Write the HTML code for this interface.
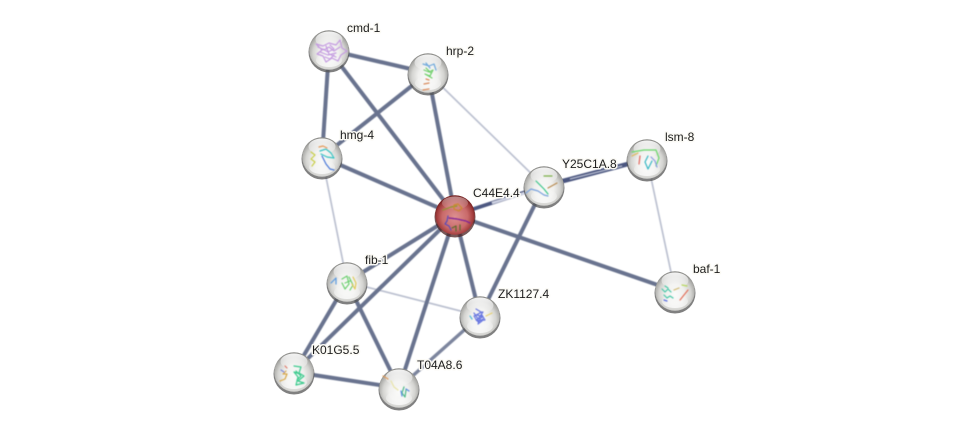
<!DOCTYPE html>
<html><head><meta charset="utf-8"><style>
html,body{margin:0;padding:0;background:#fff;width:976px;height:432px;overflow:hidden}
svg{display:block}
text{font-family:"Liberation Sans",sans-serif;font-size:12px;fill:#1c1c1c;paint-order:stroke;stroke:#fbfaf5;stroke-width:3px;stroke-linejoin:round}
.s{stroke:#69738f;stroke-width:4;fill:none}
.t{stroke:#bcc1d0;stroke-width:1.7;fill:none}
.p{fill:none;stroke-width:1.2;stroke-linecap:round;stroke-linejoin:round}
</style></head><body>
<svg width="976" height="432" viewBox="0 0 976 432" xmlns="http://www.w3.org/2000/svg">
<defs>
<filter id="b" x="-5%" y="-5%" width="110%" height="110%"><feGaussianBlur stdDeviation="0.45"/></filter>
<radialGradient id="g" cx="50%" cy="58%" r="56%">
<stop offset="0" stop-color="#fbfbfa"/><stop offset=".45" stop-color="#efefed"/><stop offset=".72" stop-color="#d4d4d1"/><stop offset=".9" stop-color="#adadaa"/><stop offset="1" stop-color="#8b8b88"/>
</radialGradient>
<radialGradient id="r" cx="50%" cy="55%" r="54%">
<stop offset="0" stop-color="#dd9090"/><stop offset=".6" stop-color="#c96a6a"/><stop offset=".85" stop-color="#a23c3c"/><stop offset="1" stop-color="#701c1c"/>
</radialGradient>
<linearGradient id="h" x1="0" y1="0" x2="0" y2="1"><stop offset="0" stop-color="#fff" stop-opacity=".9"/><stop offset="1" stop-color="#fff" stop-opacity=".1"/></linearGradient>
<linearGradient id="lo" x1="0" y1="0" x2="0" y2="1"><stop offset="0" stop-color="#fff" stop-opacity="0"/><stop offset="1" stop-color="#fff" stop-opacity=".75"/></linearGradient>
<g id="n"><circle cy="2" r="20.5" fill="#555" opacity=".75"/><circle r="19.8" fill="url(#g)"/><ellipse cy="-10.5" rx="13.5" ry="8" fill="url(#h)"/><ellipse cy="10" rx="13" ry="7" fill="url(#lo)"/></g>
<g id="m"><circle cy="2" r="20.5" fill="#4a2020" opacity=".75"/><circle r="19.8" fill="url(#r)"/><ellipse cy="-12" rx="13" ry="6.5" fill="url(#h)" opacity=".5"/></g>
</defs>

<g filter="url(#b)">
<line class="t" x1="428" y1="73" x2="544" y2="186"/>
<line class="t" x1="322" y1="157" x2="347" y2="282"/>
<line class="t" x1="347" y1="282" x2="480" y2="316"/>
<line class="t" x1="647" y1="159" x2="675" y2="291"/>

<line class="s" x1="329" y1="50" x2="428" y2="73"/>
<line class="s" x1="329" y1="50" x2="322" y2="157"/>
<line class="s" x1="329" y1="50" x2="455" y2="215"/>
<line class="s" x1="428" y1="73" x2="322" y2="157"/>
<line class="s" x1="428" y1="73" x2="455" y2="215"/>
<line class="s" x1="322" y1="157" x2="455" y2="215"/>
<line class="s" x1="455" y1="215" x2="347" y2="282" stroke-width="4.6"/>
<line class="s" x1="455" y1="215" x2="294" y2="372"/>
<line class="s" x1="455" y1="215" x2="399" y2="388" stroke-width="4.2"/>
<line class="s" x1="455" y1="215" x2="480" y2="316"/>
<line class="s" x1="455" y1="215" x2="675" y2="291"/>
<line class="s" x1="544" y1="186" x2="480" y2="316" stroke-width="3.6"/>
<line class="s" x1="347" y1="282" x2="294" y2="372" stroke-width="4.8"/>
<line class="s" x1="347" y1="282" x2="399" y2="388"/>
<line class="s" x1="294" y1="372" x2="399" y2="388" stroke-width="4.4"/>
<line x1="480" y1="316" x2="399" y2="388" stroke="#7d859e" stroke-width="3.4"/>
<line x1="455" y1="215" x2="544" y2="186" stroke="#4e5982" stroke-width="3.8"/>
<line x1="492" y1="203" x2="528" y2="192" stroke="#d0d4e4" stroke-width="2.4"/>
<line x1="544" y1="186" x2="647" y2="159" stroke="#4b5680" stroke-width="4.6"/>
<line x1="570" y1="179" x2="622" y2="166" stroke="#bcc2d8" stroke-width="1"/>
</g>

<use href="#n" x="329" y="50"/>
<use href="#n" x="428" y="73"/>
<use href="#n" x="322" y="157"/>
<use href="#n" x="544" y="186"/>
<use href="#n" x="647" y="159"/>
<use href="#n" x="675" y="291"/>
<use href="#n" x="480" y="316"/>
<use href="#n" x="347" y="282"/>
<use href="#n" x="294" y="372"/>
<use href="#n" x="399" y="388"/>
<use href="#m" x="455" y="215"/>

<g filter="url(#b)">
<path class="p" stroke="#c49be0" d="M316 44l7 2 6-3 7 2 4-5 2 8 5 3-6 4-3 6-6-3-6 4-3-6-6-2 5-4-6-6zM320 52l8 3 8-2M326 46l3 8 7 3M318 47l6 3 5-3 5 4 6-4M325 57l5 2 4-4M330 45l4 4-6 3-5-3"/>
<path class="p" stroke="#6fa9dc" d="M423 64l6 2 5-2 2 6M426 63l4 5"/><path class="p" stroke="#6fcf6a" d="M424 70l5 2 4-2-3 6-5-2 7 4M426 68l5 5"/><path class="p" stroke="#d98a5c" d="M424 84l5-1M423 90l6-1M426 79l3 1"/>
<path class="p" stroke="#c9cf4a" stroke-width="1.5" d="M311 152l4 3-4 4 4 3-3 4"/><path class="p" stroke="#38c4c4" d="M320 151l6-2 5 4 3 5-7-1-6-3"/><path class="p" stroke="#e49a5a" d="M319 147l4-1 4 2"/><path class="p" stroke="#4a78d8" d="M322 156l4 8 4 5 4 1"/>
<path class="p" stroke="#7bb04a" stroke-width="2.4" d="M544 176l8 0"/><path class="p" stroke="#b78a50" stroke-width="3" d="M548 188l9-5"/><path class="p" stroke="#3cc48a" stroke-width="2" d="M536 181l8 8 4 5"/><path class="p" stroke="#7aa2dc" d="M526 193l5-4 7 2 6 4 4 1"/>
<path class="p" stroke="#6cd86c" stroke-width="1.8" d="M632 152l12-2 12 0 3 8-3 8"/><path class="p" stroke="#e2665c" stroke-width="2.4" d="M640 156l-1 8"/><path class="p" stroke="#39b8c4" stroke-width="1.5" d="M648 156l-3 6 3 7 4-8"/><path class="p" stroke="#e0b85a" stroke-width="1.6" d="M632 156l6-3"/><path class="p" stroke="#8a9be0" d="M651 157l4 4 2 6"/>
<path class="p" stroke="#48c8a8" stroke-width="1.5" d="M662 289l3 3 3-3 3 3M664 295l3 3 3-2 3 2M665 286l3 2"/><path class="p" stroke="#e2705a" stroke-width="2.2" d="M680 300l8-10"/><path class="p" stroke="#d0b870" stroke-width="1.6" d="M674 290l5-2"/><path class="p" stroke="#b8d860" d="M682 285l5 1"/><path class="p" stroke="#5a6ee0" stroke-width="1.5" d="M664 300l3 1"/>
<path class="p" stroke="#6a78e0" d="M476 309l5 3-4 3 6 2-7 3 6 1-4 3 4-9 3 5-8 1-3-5 8-4M474 313l4 6 5-7M478 322l5-3"/><path class="p" stroke="#e4cf70" d="M486 316l6-3"/><path class="p" stroke="#52b8d8" d="M470 316l2 3"/>
<path class="p" stroke="#6ccf70" stroke-width="1.5" d="M342 279l5-3 2 8-4 5-3-6M349 277l4 8-3 5M345 283l5-2"/><path class="p" stroke="#e0c85a" stroke-width="1.5" d="M353 277l3 6-1 6-3-5"/><path class="p" stroke="#5a9ae0" stroke-width="1.5" d="M331 283l5-5 0 6"/>
<path class="p" stroke="#3ccb8e" stroke-width="1.5" d="M294 366l7 1-2 6 5 3-6 5 6 2-8 2 2-8-4-5 6 2M296 371l5 5-4 4"/><path class="p" stroke="#d8a84a" stroke-width="2" d="M280 381l5-2 2-5-4 0 3-3"/><path class="p" stroke="#7a88d8" d="M281 370l3 2"/><path class="p" stroke="#e07a6a" d="M285 366l2 2"/>
<path class="p" stroke="#e09a5a" stroke-width="1.6" d="M383 376l5 3"/><path class="p" stroke="#e8e4a8" d="M391 381l3 6 4 3"/><path class="p" stroke="#4fb888" stroke-width="1.5" d="M404 387l-2 6 3 4 1-7"/><path class="p" stroke="#5a8ae0" d="M401 391l1 5M406 389l3 2"/>
<path class="p" stroke="#8a9a2a" stroke-width="1.6" d="M443 210l8-3 6-1"/><path class="p" stroke="#c88a2a" d="M454 205l4-1 4 4-3 3-5-2z"/><path class="p" stroke="#7a1a9a" stroke-width="2" stroke-dasharray="2 1" d="M449 218l8 1 9 2 4 2"/><path class="p" stroke="#5a4ab8" d="M448 216l-1 5-2 3 4 2 2 4"/><path class="p" stroke="#5a6a2a" d="M452 228l4-2 0 5M460 225l0 5"/>
</g>

<text x="347" y="32">cmd-1</text>
<text x="446" y="55">hrp-2</text>
<text x="340" y="139">hmg-4</text>
<text x="473" y="197">C44E4.4</text>
<text x="562" y="168">Y25C1A.8</text>
<text x="665" y="141">lsm-8</text>
<text x="693" y="273">baf-1</text>
<text x="498" y="298">ZK1127.4</text>
<text x="365" y="264">fib-1</text>
<text x="312" y="354">K01G5.5</text>
<text x="417" y="369">T04A8.6</text>
</svg>
</body></html>
